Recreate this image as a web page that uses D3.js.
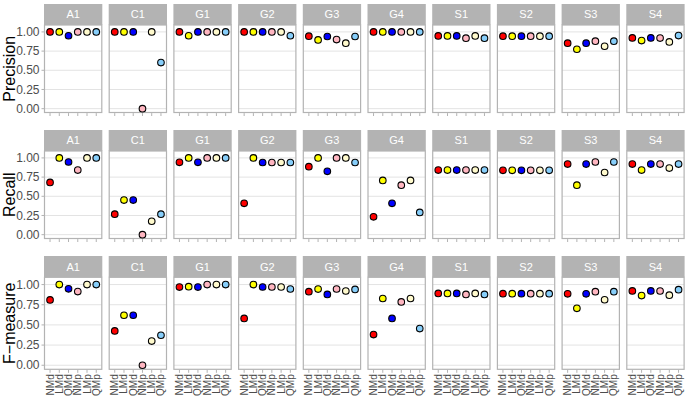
<!DOCTYPE html>
<html>
<head>
<meta charset="utf-8">
<script src="https://cdn.jsdelivr.net/npm/d3@7"></script>
<style>
  body { margin: 0; background: #fff; }
  text { font-family: "Liberation Sans", Arial, sans-serif; }
</style>
</head>
<body>
<div id="chart"></div>
<script>
// facets and methods
var datasets = ["A1", "C1", "G1", "G2", "G3", "G4", "S1", "S2", "S3", "S4"];
var methods = ["NMd", "LMd", "QMd", "NMp", "LMp", "QMp"];
var methodColors = ["#ff0000", "#ffff00", "#0000ff", "#ffb6c1", "#fffacd", "#87cefa"];
var yTicks = [0, 0.25, 0.5, 0.75, 1];
var measures = ["Precision", "Recall", "F\u2212measure"];

// one row per dataset, one value per method
var precision = [
    [1.00, 1.00, 0.95, 1.00, 1.00, 1.00],
    [1.00, 1.00, 1.00, 0.00, 1.00, 0.60],
    [1.00, 0.95, 1.00, 1.00, 1.00, 1.00],
    [1.00, 1.00, 1.00, 1.00, 1.00, 0.95],
    [0.944, 0.896, 0.94, 0.90, 0.853, 0.94],
    [1.00, 1.00, 1.00, 1.00, 1.00, 1.00],
    [0.948, 0.948, 0.948, 0.918, 0.948, 0.918],
    [0.944, 0.944, 0.944, 0.944, 0.944, 0.944],
    [0.853, 0.774, 0.853, 0.879, 0.813, 0.879],
    [0.922, 0.887, 0.922, 0.92, 0.87, 0.952]
];
var recall = [
    [0.68, 1.00, 0.947, 0.842, 1.00, 1.00],
    [0.267, 0.451, 0.451, 0.00, 0.175, 0.267],
    [0.942, 1.00, 0.942, 1.00, 1.00, 1.00],
    [0.408, 1.00, 0.94, 0.94, 0.94, 0.94],
    [0.886, 1.00, 0.825, 1.00, 1.00, 0.94],
    [0.232, 0.706, 0.408, 0.645, 0.706, 0.29],
    [0.842, 0.842, 0.842, 0.842, 0.842, 0.842],
    [0.838, 0.838, 0.838, 0.838, 0.838, 0.838],
    [0.92, 0.645, 0.92, 0.947, 0.81, 0.947],
    [0.92, 0.842, 0.92, 0.92, 0.868, 0.92]
];
var fmeasure = [
    [0.81, 1.00, 0.947, 0.913, 1.00, 1.00],
    [0.425, 0.62, 0.62, 0.00, 0.30, 0.372],
    [0.969, 0.974, 0.969, 1.00, 1.00, 1.00],
    [0.58, 1.00, 0.97, 0.97, 0.97, 0.945],
    [0.912, 0.944, 0.878, 0.945, 0.92, 0.94],
    [0.38, 0.827, 0.58, 0.785, 0.827, 0.455],
    [0.89, 0.89, 0.89, 0.878, 0.89, 0.878],
    [0.887, 0.887, 0.887, 0.887, 0.887, 0.887],
    [0.885, 0.705, 0.885, 0.912, 0.812, 0.912],
    [0.921, 0.864, 0.921, 0.92, 0.868, 0.937]
];
var values = [precision, recall, fmeasure];

var w = 685;
var h = 396;
var panelLeft = 44.5;
var panelW = 57.3;
var panelStep = 64.7;
// strip top, panel top, panel bottom for each row
var rows = [
    { strip: 4, top: 25, bottom: 112.5 },
    { strip: 130, top: 151, bottom: 238.5 },
    { strip: 256, top: 277.3, bottom: 369.3 }
];

var svg = d3.select("#chart")
    .append("svg")
    .attr("width", w)
    .attr("height", h);

var x = d3.scalePoint()
    .domain(methods)
    .range([0, panelW])
    .padding(0.6);

var color = d3.scaleOrdinal()
    .domain(methods)
    .range(methodColors);

rows.forEach(function (row, r) {
    var y = d3.scaleLinear()
        .domain([-0.05, 1.09])
        .range([row.bottom, row.top]);

    // y axis title
    svg.append("text")
        .attr("transform", "translate(15," + ((row.top + row.bottom) / 2) + ") rotate(-90)")
        .attr("text-anchor", "middle")
        .style("font-size", "16px")
        .style("fill", "#000")
        .text(measures[r]);

    // y tick labels (first column only)
    yTicks.forEach(function (t) {
        svg.append("text")
            .attr("x", panelLeft - 5)
            .attr("y", y(t))
            .attr("dy", "0.35em")
            .attr("text-anchor", "end")
            .style("font-size", "12px")
            .style("fill", "#4d4d4d")
            .text(d3.format(".2f")(t));
        svg.append("line")
            .attr("x1", panelLeft - 3).attr("x2", panelLeft)
            .attr("y1", y(t)).attr("y2", y(t))
            .style("stroke", "#b3b3b3").style("stroke-width", 1);
    });

    datasets.forEach(function (ds, i) {
        var left = panelLeft + i * panelStep;
        var g = svg.append("g")
            .attr("transform", "translate(" + left + ",0)");

        // strip
        g.append("rect")
            .attr("x", -0.5).attr("y", row.strip)
            .attr("width", panelW + 1).attr("height", row.top - row.strip)
            .style("fill", "#b3b3b3");
        g.append("text")
            .attr("x", panelW / 2)
            .attr("y", (row.strip + row.top) / 2)
            .attr("dy", "0.35em")
            .attr("text-anchor", "middle")
            .style("font-size", "11px")
            .style("fill", "#fff")
            .text(ds);

        // gridlines
        g.selectAll(".grid")
            .data(yTicks)
            .enter()
            .append("line")
            .attr("x1", 0).attr("x2", panelW)
            .attr("y1", function (d) { return y(d); })
            .attr("y2", function (d) { return y(d); })
            .style("stroke", "#e3e3e3")
            .style("stroke-width", 1);

        // panel border
        g.append("rect")
            .attr("x", 0).attr("y", row.top)
            .attr("width", panelW).attr("height", row.bottom - row.top)
            .style("fill", "none")
            .style("stroke", "#b3b3b3")
            .style("stroke-width", 1.2);

        // x ticks
        g.selectAll(".xtick")
            .data(methods)
            .enter()
            .append("line")
            .attr("x1", function (d) { return x(d); })
            .attr("x2", function (d) { return x(d); })
            .attr("y1", row.bottom + 0.6)
            .attr("y2", row.bottom + 3.5)
            .style("stroke", "#b3b3b3")
            .style("stroke-width", 1);

        // x labels on the last row
        if (r == rows.length - 1) {
            g.selectAll(".xlab")
                .data(methods)
                .enter()
                .append("text")
                .attr("transform", function (d) {
                    return "translate(" + x(d) + "," + (row.bottom + 5) + ") rotate(-90)";
                })
                .attr("dy", "0.35em")
                .attr("text-anchor", "end")
                .style("font-size", "10px")
                .style("fill", "#4d4d4d")
                .text(function (d) { return d; });
        }

        // points
        g.selectAll("circle")
            .data(values[r][i])
            .enter()
            .append("circle")
            .attr("cx", function (d, j) { return x(methods[j]); })
            .attr("cy", function (d) { return y(d); })
            .attr("r", 3.3)
            .style("fill", function (d, j) { return color(methods[j]); })
            .style("stroke", "#000")
            .style("stroke-width", 1.1);
    });
});
</script>
</body>
</html>
